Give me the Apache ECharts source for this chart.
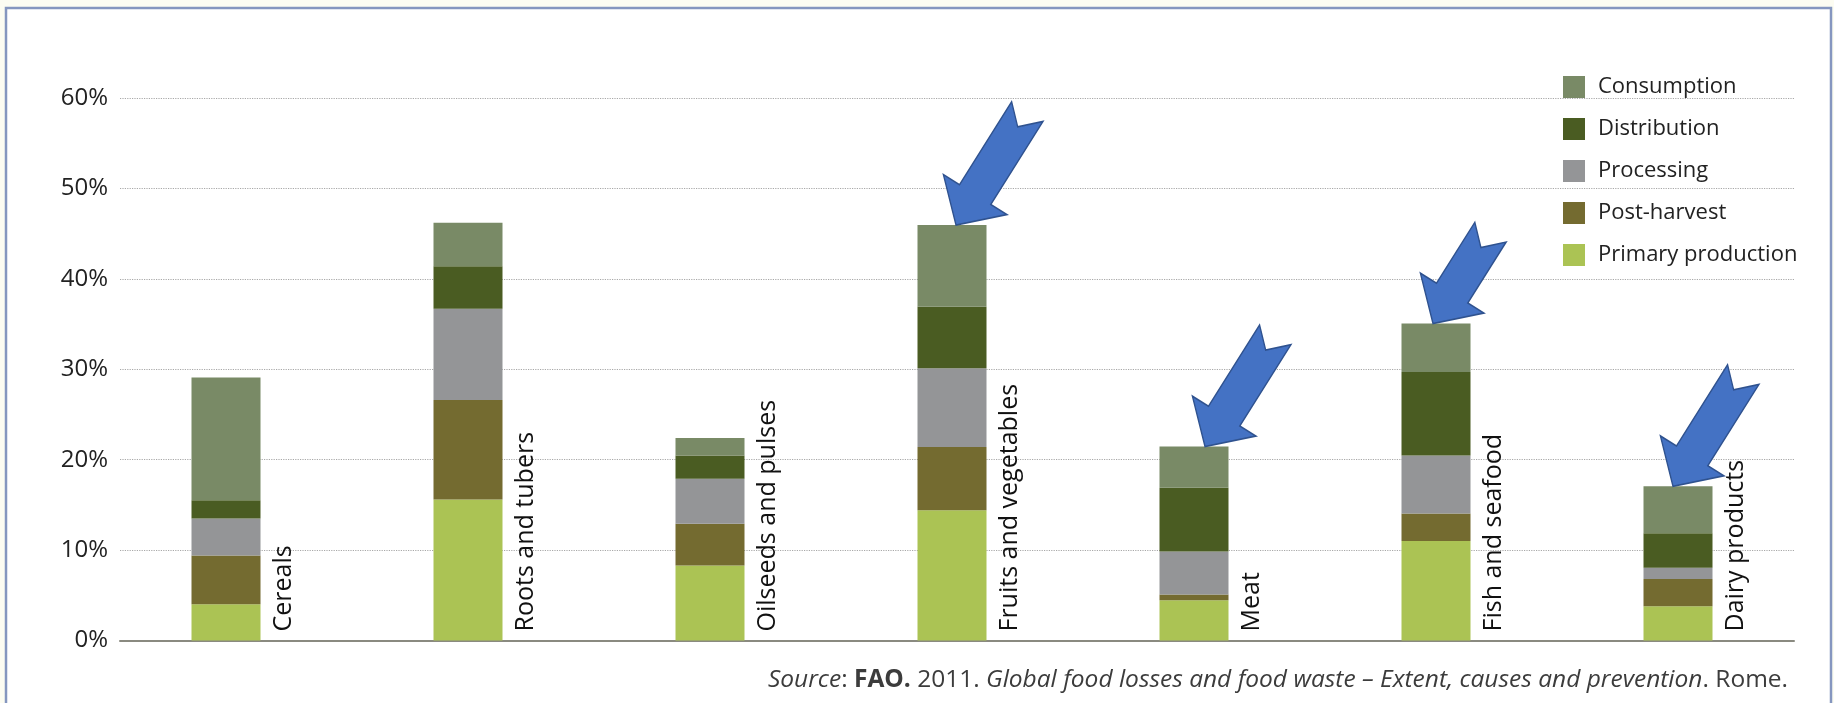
<!DOCTYPE html>
<html><head><meta charset="utf-8">
<script src="https://cdn.jsdelivr.net/npm/echarts@6/dist/echarts.min.js"></script>
<style>html,body{margin:0;padding:0;background:#fcfcf2;} #c{width:1834px;height:703px;}</style>
</head><body><div id="c"></div>
<script>
const categories = ['Cereals', 'Roots and tubers', 'Oilseeds and pulses', 'Fruits and vegetables', 'Meat', 'Fish and seafood', 'Dairy products'];
const primaryProduction = [4.0, 15.6, 8.3, 14.4, 4.45, 11.0, 3.8];
const postHarvest = [5.4, 11.0, 4.6, 7.0, 0.65, 3.05, 3.0];
const processing = [4.1, 10.1, 5.0, 8.7, 4.75, 6.4, 1.25];
const distribution = [2.0, 4.7, 2.55, 6.8, 7.05, 9.25, 3.8];
const consumption = [13.6, 4.8, 1.95, 9.05, 4.55, 5.35, 5.2];
const legendOrder = ['Consumption', 'Distribution', 'Processing', 'Post-harvest', 'Primary production'];
const arrowTargets = ['Fruits and vegetables', 'Meat', 'Fish and seafood', 'Dairy products'];
const arrowLengths = [134, 132, 108, 132];
const arrowTipShift = [4, 11, -3, -5];

const FONT = 'Open Sans';
const totals = categories.map((c, i) => primaryProduction[i] + postHarvest[i] + processing[i] + distribution[i] + consumption[i]);

function arrowSymbol(len, shiftX) {
  const hw = 18.5, hh = 37.5, hl = 36, nd = 18;
  const d = [-0.532, 0.846], n = [0.846, 0.532];
  const pts = [[0, -hw], [len - hl, -hw], [len - hl, -hh], [len, 0], [len - hl, hh], [len - hl, hw], [0, hw], [nd, 0]];
  const xy = pts.map(([u, v]) => [-d[0] * (len - u) + n[0] * v, -d[1] * (len - u) + n[1] * v]);
  const xs = xy.map(p => p[0]), ys = xy.map(p => p[1]);
  const minX = Math.min(...xs), maxX = Math.max(...xs), minY = Math.min(...ys), maxY = Math.max(...ys);
  const path = 'path://M' + xy.map(p => p[0].toFixed(2) + ' ' + p[1].toFixed(2)).join(' L') + ' Z';
  return { symbol: path, symbolSize: [maxX - minX, maxY - minY], symbolOffset: [(minX + maxX) / 2 + shiftX, (minY + maxY) / 2] };
}

const colors = {
  'Consumption': '#798a66',
  'Distribution': '#4a5c22',
  'Processing': '#949597',
  'Post-harvest': '#746b30',
  'Primary production': '#abc354'
};

function barSeries(name, data, extra) {
  return Object.assign({
    name: name, type: 'bar', stack: 'total', xAxisIndex: 1, yAxisIndex: 1,
    barWidth: 69, data: data, itemStyle: { color: colors[name] },
    emphasis: { disabled: true }
  }, extra || {});
}

const chart = echarts.init(document.getElementById('c'), null, { renderer: 'canvas' });
chart.setOption({
  backgroundColor: '#fcfcf2',
  animation: false,
  graphic: [{
    type: 'rect', z: -100, silent: true,
    shape: { x: 6, y: 8, width: 1825, height: 720 },
    style: { fill: '#ffffff', stroke: '#8596bf', lineWidth: 2.5 }
  }],
  title: {
    right: 41, top: 663,
    text: '{i|Source}: {b|FAO.} 2011. {i|Global food losses and food waste – Extent, causes and prevention}. Rome.',
    textStyle: {
      fontFamily: FONT, fontSize: 24.5, color: '#3c3c3c', fontWeight: 'normal',
      rich: {
        i: { fontFamily: FONT, fontSize: 24.5, color: '#3c3c3c', fontStyle: 'italic' },
        b: { fontFamily: FONT, fontSize: 24.5, color: '#3c3c3c', fontWeight: 'bold' }
      }
    }
  },
  legend: {
    data: legendOrder, orient: 'vertical', left: 1558, top: 71,
    itemWidth: 22, itemHeight: 22, itemGap: 20, icon: 'rect',
    textStyle: { fontFamily: FONT, fontSize: 22, color: '#222', padding: [0, 0, 0, 8] }
  },
  grid: [
    { left: 120, right: 40, top: 98, bottom: 62.5 },
    { left: 105, right: 35, top: 98, bottom: 62.5 }
  ],
  xAxis: [
    { type: 'category', gridIndex: 0, data: categories, axisTick: { show: false }, axisLabel: { show: false },
      axisLine: { lineStyle: { color: '#8a8a80', width: 2 } } },
    { type: 'category', gridIndex: 1, data: categories, show: false }
  ],
  yAxis: [
    { type: 'value', gridIndex: 0, min: 0, max: 60, interval: 10,
      axisLine: { show: false }, axisTick: { show: false },
      axisLabel: { formatter: '{value}%', fontFamily: FONT, fontSize: 24, color: '#222', margin: 12 },
      splitLine: { lineStyle: { type: 'dotted', color: '#a8a8a8', width: 1.2 } } },
    { type: 'value', gridIndex: 1, min: 0, max: 60, interval: 10, show: false, splitLine: { show: false } }
  ],
  series: [
    barSeries('Primary production', primaryProduction, {
      label: {
        show: true, position: ['100%', '100%'], rotate: 90, align: 'left', verticalAlign: 'top',
        offset: [9, 11], formatter: p => p.name, fontFamily: FONT, fontSize: 25, color: '#111'
      }
    }),
    barSeries('Post-harvest', postHarvest),
    barSeries('Processing', processing),
    barSeries('Distribution', distribution),
    barSeries('Consumption', consumption, {
      markPoint: {
        silent: true,
        label: { show: false },
        itemStyle: { color: '#4472c4', borderColor: '#2f528f', borderWidth: 1.5 },
        data: arrowTargets.map((c, i) => {
          const idx = categories.indexOf(c);
          return Object.assign({ coord: [idx, totals[idx]] }, arrowSymbol(arrowLengths[i], arrowTipShift[i]));
        })
      }
    })
  ]
});
</script></body></html>
